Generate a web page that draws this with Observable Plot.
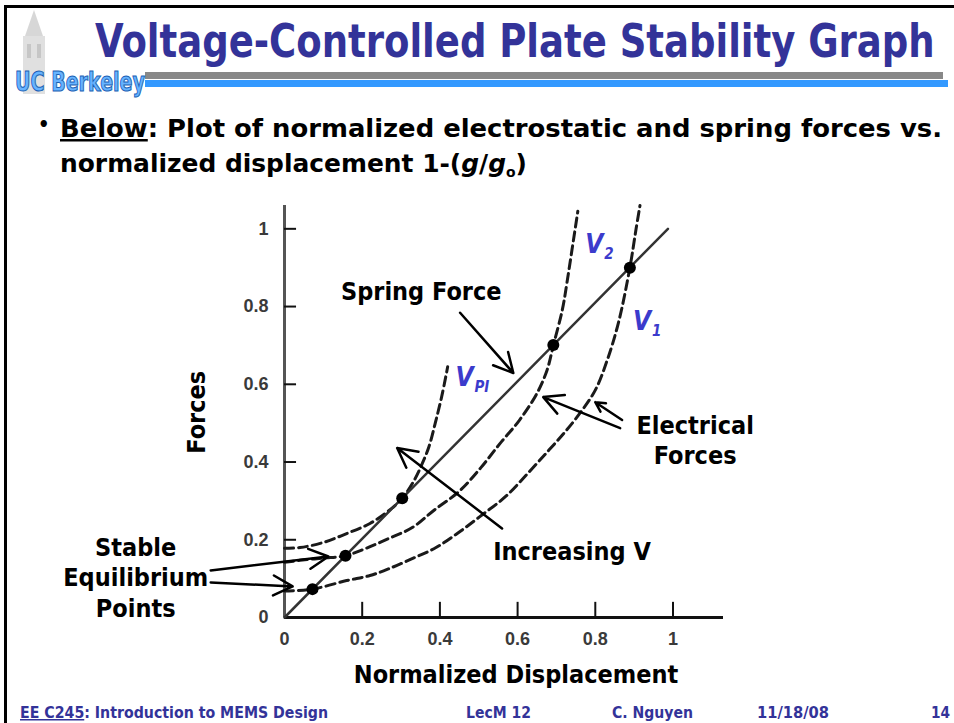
<!DOCTYPE html>
<html><head><meta charset="utf-8">
<script src="https://cdn.jsdelivr.net/npm/d3@7"></script>
<script src="https://cdn.jsdelivr.net/npm/@observablehq/plot@0.6"></script>
<style>
html,body{margin:0;padding:0;background:#fff;}
#slide{position:relative;width:954px;height:723px;overflow:hidden;background:#fff;}
#bg{position:absolute;left:0;top:0;}
#chart{position:absolute;left:0;top:190px;}
.c{font-family:'DejaVu Sans Condensed','DejaVu Sans',sans-serif;font-weight:bold;}
</style></head><body>
<div id="slide">
<svg id="bg" width="954" height="723" xmlns="http://www.w3.org/2000/svg">
  <rect x="4" y="5" width="950" height="3" fill="#000"/>
  <rect x="4" y="5" width="3" height="718" fill="#000"/>
  <g opacity="0.55">
    <polygon points="34,10 25,36 43,36" fill="#b8b8b8"/>
    <rect x="23" y="36" width="22" height="58" fill="#c8c8c8"/>
    <rect x="27" y="44" width="4" height="14" fill="#999"/>
    <rect x="37" y="44" width="4" height="14" fill="#999"/>
  </g>
  <rect x="145" y="72" width="798" height="7" fill="#888"/>
  <rect x="145" y="80" width="803" height="7" fill="#3399ff"/>
  <text class="c" x="15" y="91" font-size="26" textLength="130" lengthAdjust="spacingAndGlyphs" fill="#66b3ff" stroke="#1a5fb4" stroke-width="1">UC Berkeley</text>
  <text id="title" class="c" x="0" y="0" font-size="46" fill="#333399" transform="translate(95,57)">Voltage-Controlled Plate Stability Graph</text>
  <text class="c" x="38" y="131" font-size="20" fill="#000">•</text>
  <text class="c" x="60" y="137" font-size="25" textLength="882" lengthAdjust="spacingAndGlyphs" fill="#000"><tspan text-decoration="underline">Below</tspan>: Plot of normalized electrostatic and spring forces vs.</text>
  <text class="c" x="60" y="172" font-size="25" textLength="467" lengthAdjust="spacingAndGlyphs" fill="#000">normalized displacement 1-(<tspan font-style="italic">g</tspan>/<tspan font-style="italic">g</tspan><tspan font-size="14" dy="5">o</tspan><tspan dy="-5">)</tspan></text>
  <text class="c" x="20" y="718" font-size="15" textLength="308" lengthAdjust="spacingAndGlyphs" fill="#333399"><tspan text-decoration="underline">EE C245</tspan>: Introduction to MEMS Design</text>
  <text class="c" x="466" y="718" font-size="15" textLength="65" lengthAdjust="spacingAndGlyphs" fill="#333399">LecM 12</text>
  <text class="c" x="612" y="718" font-size="15" textLength="81" lengthAdjust="spacingAndGlyphs" fill="#333399">C. Nguyen</text>
  <text class="c" x="757" y="718" font-size="15" textLength="72" lengthAdjust="spacingAndGlyphs" fill="#333399">11/18/08</text>
  <text class="c" x="931" y="718" font-size="15" textLength="19" lengthAdjust="spacingAndGlyphs" fill="#333399">14</text>
</svg>
<div id="chart"></div>
</div>
<script>
// Fit title to the reference width by horizontal scaling
(function () {
  const t = document.getElementById("title");
  const w = t.getComputedTextLength();
  t.setAttribute("transform", `translate(95,57) scale(${840 / w},1)`);
})();

// Tick values and labels
const xTickValues = [0, 0.2, 0.4, 0.6, 0.8, 1];
const xTickLabels = ["0", "0.2", "0.4", "0.6", "0.8", "1"];
const yTickValues = [0, 0.2, 0.4, 0.6, 0.8, 1];
const yTickLabels = ["0", "0.2", "0.4", "0.6", "0.8", "1"];

// Spring force (linear)
const springX = [0, 0.987];
const springY = [0, 1.0];

// Electrostatic force curves
const v1X = [0, 0.072, 0.16, 0.22, 0.27, 0.33, 0.39, 0.45, 0.51, 0.57, 0.63, 0.68, 0.72, 0.76, 0.80, 0.83, 0.86, 0.889, 0.905, 0.915];
const v1Y = [0.068, 0.073, 0.095, 0.108, 0.126, 0.152, 0.180, 0.220, 0.265, 0.312, 0.375, 0.43, 0.475, 0.525, 0.585, 0.66, 0.76, 0.90, 1.00, 1.06];

const v2X = [0, 0.04, 0.10, 0.157, 0.21, 0.27, 0.33, 0.385, 0.45, 0.505, 0.555, 0.605, 0.65, 0.676, 0.692, 0.715, 0.727, 0.74, 0.755];
const v2Y = [0.142, 0.147, 0.153, 0.159, 0.178, 0.204, 0.232, 0.276, 0.325, 0.385, 0.448, 0.508, 0.577, 0.637, 0.70, 0.791, 0.861, 0.946, 1.045];

const vpiX = [0, 0.04, 0.10, 0.16, 0.22, 0.27, 0.303, 0.335, 0.355, 0.372, 0.388, 0.405, 0.42];
const vpiY = [0.178, 0.180, 0.193, 0.216, 0.242, 0.276, 0.307, 0.355, 0.397, 0.44, 0.50, 0.57, 0.645];

// Equilibrium points
const eqX = [0.072, 0.157, 0.303, 0.692, 0.889];
const eqY = [0.073, 0.159, 0.307, 0.701, 0.90];

// Annotation texts
const noteText = ["Spring Force", "Increasing V", "Electrical", "Forces", "Stable", "Equilibrium", "Points"];
const noteX = [0.352, 0.740, 1.057, 1.057, -0.383, -0.383, -0.383];
const noteY = [0.838, 0.168, 0.492, 0.415, 0.178, 0.101, 0.023];

// Annotation arrows
const arrowX1 = [0.452, 0.864, 0.869, 0.560, -0.190, -0.190];
const arrowY1 = [0.784, 0.487, 0.508, 0.229, 0.121, 0.090];
const arrowX2 = [0.589, 0.666, 0.800, 0.290, 0.113, 0.021];
const arrowY2 = [0.629, 0.567, 0.554, 0.436, 0.157, 0.080];

// Voltage labels
const vLabelSub = ["PI", "2", "1"];
const vLabelX = [0.440, 0.774, 0.897];
const vLabelY = [0.616, 0.959, 0.760];

// Axis titles
const axisTitleText = ["Forces", "Normalized Displacement"];
const axisTitleX = [-0.224, 0.596];
const axisTitleY = [0.528, -0.149];

const F = "DejaVu Sans Condensed, DejaVu Sans, sans-serif";
const pts = (xs, ys) => xs.map((x, i) => ({x, y: ys[i]}));
const notes = noteText.map((t, i) => ({t, x: noteX[i], y: noteY[i]}));
const arrows = arrowX1.map((x1, i) => ({x1, y1: arrowY1[i], x2: arrowX2[i], y2: arrowY2[i]}));
const vLabels = vLabelSub.map((s, i) => ({s, x: vLabelX[i], y: vLabelY[i]}));
const dash = {x: "x", y: "y", curve: "catmull-rom", stroke: "#1a1a1a", strokeWidth: 3, strokeDasharray: "9,5"};

const chart = Plot.plot({
  width: 954, height: 510,
  marginLeft: 284, marginRight: 231, marginTop: 15, marginBottom: 83,
  style: {background: "transparent", overflow: "visible"},
  x: {domain: [0, 1.13]},
  y: {domain: [0, 1.06]},
  marks: [
    Plot.ruleX([0], {y1: 0, y2: 1.06, stroke: "#555", strokeWidth: 3}),
    Plot.ruleY([0], {x1: 0, x2: 1.13, stroke: "#111", strokeWidth: 3}),
    Plot.ruleY(yTickValues.filter(d => d > 0), {y: d => d, x1: 0, x2: 0.031, stroke: "#111", strokeWidth: 2}),
    Plot.ruleX(xTickValues.filter(d => d > 0), {x: d => d, y1: 0, y2: 0.039, stroke: "#111", strokeWidth: 2}),
    Plot.axisY({ticks: yTickValues, tickSize: 0, tickPadding: 16, label: null,
      tickFormat: d => yTickLabels[yTickValues.indexOf(d)],
      fontSize: 18, fontWeight: "bold", fontFamily: "Liberation Sans, Arial, sans-serif", color: "#3a3a3a"}),
    Plot.axisX({ticks: xTickValues, tickSize: 0, tickPadding: 15, label: null,
      tickFormat: d => xTickLabels[xTickValues.indexOf(d)],
      fontSize: 18, fontWeight: "bold", fontFamily: "Liberation Sans, Arial, sans-serif", color: "#3a3a3a"}),
    Plot.line(pts(v1X, v1Y), dash),
    Plot.line(pts(v2X, v2Y), dash),
    Plot.line(pts(vpiX, vpiY), dash),
    Plot.line(pts(springX, springY), {x: "x", y: "y", stroke: "#333", strokeWidth: 2.5}),
    Plot.dot(pts(eqX, eqY), {x: "x", y: "y", r: 6, fill: "#000"}),
    Plot.arrow(arrows, {x1: "x1", y1: "y1", x2: "x2", y2: "y2", stroke: "#000", strokeWidth: 2.5, headLength: 13, headAngle: 55}),
    Plot.text(notes, {x: "x", y: "y", text: "t", fontFamily: F, fontSize: 25, fontWeight: "bold", fill: "#000"}),
    Plot.text(vLabels, {x: "x", y: "y", text: d => "V", textAnchor: "start", fontFamily: F, fontSize: 26, fontStyle: "italic", fontWeight: "bold", fill: "#3b3bcc"}),
    Plot.text(vLabels, {x: "x", y: "y", text: "s", textAnchor: "start", dx: 19, dy: 9, fontFamily: F, fontSize: 15, fontStyle: "italic", fontWeight: "bold", fill: "#3b3bcc"}),
    Plot.text([0], {x: axisTitleX[0], y: axisTitleY[0], text: () => axisTitleText[0], rotate: -90, fontFamily: F, fontSize: 25, fontWeight: "bold", fill: "#000"}),
    Plot.text([0], {x: axisTitleX[1], y: axisTitleY[1], text: () => axisTitleText[1], fontFamily: F, fontSize: 25, fontWeight: "bold", fill: "#000"})
  ]
});
document.getElementById("chart").appendChild(chart);
</script>
</body></html>
